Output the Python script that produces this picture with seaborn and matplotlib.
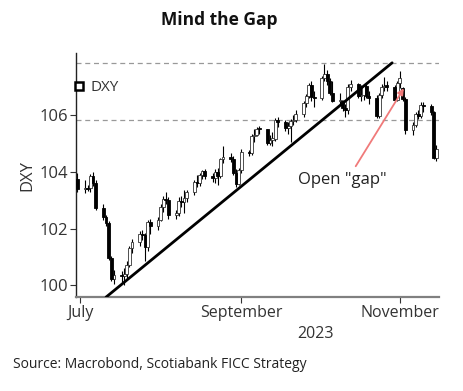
import numpy as np
import pandas as pd
import matplotlib
matplotlib.use("Agg")
import matplotlib.pyplot as plt
import matplotlib.dates as mdates
from matplotlib.lines import Line2D
import seaborn as sns

# DXY daily candles, 30 Jun - 15 Nov 2023
dates = pd.bdate_range("2023-06-30", "2023-11-15")

opens = [103.75,
         103.38, 103.42, 103.42, 103.85, 103.62, 102.72, 102.41, 102.18, 100.97, 100.22, 100.36,
         100.33, 100.38, 100.72, 101.31, 101.52, 101.81, 101.78, 101.35, 102.22, 102.08,
         102.31, 102.75, 103.04, 103.02, 102.47, 102.54, 102.98, 102.93, 103.08, 103.29, 103.66,
         103.60, 103.88, 104.02, 103.84, 103.77, 104.01, 103.85, 104.45, 104.53, 104.47, 103.95, 103.59,
         104.07, 104.69, 104.67, 105.27, 105.29, 105.52, 105.50, 105.03, 105.14, 105.17, 105.83,
         105.77, 105.55, 105.62, 105.80, 105.84, 106.03, 106.43, 106.67, 107.08, 106.64,
         106.62, 107.33, 107.44, 107.20, 106.78, 106.49, 106.50, 106.24, 106.18, 107.00, 107.10,
         106.69, 106.71, 107.02, 106.69, 106.61, 105.97, 106.71, 107.00, 107.03, 107.01, 106.55,
         107.14, 106.95, 106.59, 105.49, 105.66, 106.03, 105.97, 106.35, 106.32, 106.10, 104.49]
highs = [103.95,
         103.70, 103.55, 103.92, 104.00, 103.70, 102.85, 102.48, 102.28, 101.05, 100.55, 100.50,
         100.60, 100.85, 101.38, 101.65, 101.92, 101.95, 101.85, 102.30, 102.35, 102.40,
         102.85, 103.15, 103.30, 103.10, 102.65, 103.10, 103.15, 103.35, 103.35, 103.72, 103.90,
         103.95, 104.08, 104.10, 103.95, 104.10, 104.15, 104.50, 104.90, 104.65, 104.55, 104.10, 104.15,
         104.80, 104.78, 105.35, 105.50, 105.60, 105.62, 105.52, 105.30, 105.40, 105.90, 105.95,
         105.82, 105.75, 105.85, 106.00, 106.20, 106.50, 106.75, 107.15, 107.20, 106.85,
         107.40, 107.80, 107.60, 107.30, 107.20, 106.80, 106.55, 106.40, 107.10, 107.25, 107.15,
         107.05, 107.10, 107.15, 106.85, 106.70, 106.80, 107.10, 107.35, 107.20, 107.05, 107.20,
         107.55, 107.00, 106.65, 105.75, 106.10, 106.20, 106.45, 106.45, 106.40, 106.15, 104.95]
lows = [103.30,
        103.25, 103.32, 103.30, 103.50, 102.65, 102.30, 102.10, 100.90, 100.15, 100.03, 100.10,
        100.02, 100.25, 100.65, 101.15, 101.40, 101.58, 100.85, 101.22, 101.80, 101.95,
        102.25, 102.60, 102.85, 102.35, 102.35, 102.45, 102.75, 102.55, 102.95, 103.20, 103.45,
        103.50, 103.75, 103.75, 103.65, 103.60, 103.55, 103.80, 104.30, 104.35, 103.90, 103.45, 103.55,
        103.95, 104.55, 104.60, 105.05, 105.25, 105.35, 104.95, 104.95, 104.90, 105.10, 105.60,
        105.45, 105.35, 105.05, 105.65, 105.75, 105.95, 106.30, 106.60, 106.50, 106.30,
        106.55, 107.20, 107.05, 106.70, 106.45, 106.35, 106.15, 105.95, 106.05, 106.85, 106.60,
        106.50, 106.55, 106.60, 106.40, 105.90, 105.90, 106.60, 106.85, 106.85, 106.45, 106.50,
        106.95, 106.50, 105.35, 105.30, 105.60, 105.85, 105.90, 106.10, 106.00, 104.45, 104.40]
closes = [103.38,
          103.42, 103.40, 103.85, 103.62, 102.72, 102.41, 102.18, 100.97, 100.22, 100.36, 100.33,
          100.38, 100.72, 101.31, 101.52, 101.81, 101.78, 101.35, 102.22, 102.08, 102.31,
          102.75, 103.04, 103.02, 102.47, 102.54, 102.98, 102.93, 103.08, 103.29, 103.66, 103.60,
          103.88, 104.02, 103.84, 103.77, 104.01, 103.85, 104.45, 104.53, 104.47, 103.95, 103.59, 104.07,
          104.69, 104.67, 105.27, 105.29, 105.52, 105.50, 105.03, 105.14, 105.17, 105.83, 105.77,
          105.55, 105.62, 105.80, 105.84, 106.03, 106.43, 106.67, 107.08, 106.64, 106.62,
          107.33, 107.44, 107.20, 106.78, 106.49, 106.50, 106.24, 106.18, 107.00, 107.10, 106.69,
          106.71, 107.02, 106.69, 106.61, 105.97, 106.71, 107.00, 107.03, 107.01, 106.55, 107.14,
          107.33, 106.59, 105.49, 105.66, 106.03, 105.97, 106.35, 106.32, 106.10, 104.49, 104.82]

# hand-drawn trend line and the two reference levels
trend_dates = ["2023-07-11", "2023-10-29"]
trend_values = [99.58, 107.85]
ref_levels = [107.84, 105.82]

df = pd.DataFrame({"date": dates, "open": opens, "high": highs, "low": lows, "close": closes})
up = df["close"] >= df["open"]

sns.set_theme(style="ticks")
plt.rcParams["font.family"] = ["Open Sans", "DejaVu Sans"]

fig = plt.figure(figsize=(4.64, 3.91), dpi=100)
ax = fig.add_axes([0.164, 0.240, 0.782, 0.624])

for lvl in ref_levels:
    ax.axhline(lvl, color="#999999", lw=0.9, ls=(0, (4, 3)), zorder=1)

# wicks
ax.vlines(df["date"], df["low"], df["high"], color="black", lw=0.8, zorder=2)
# bodies
body_w = 1.1
ax.bar(df.loc[up, "date"], (df.loc[up, "close"] - df.loc[up, "open"]).clip(lower=0.04),
       bottom=df.loc[up, "open"], width=body_w, color="white", edgecolor="#333333",
       linewidth=0.6, zorder=3)
ax.bar(df.loc[~up, "date"], (df.loc[~up, "open"] - df.loc[~up, "close"]).clip(lower=0.04),
       bottom=df.loc[~up, "close"], width=body_w, color="black", edgecolor="black",
       linewidth=0.6, zorder=3)

trend = pd.DataFrame({"date": pd.to_datetime(trend_dates), "value": trend_values})
sns.lineplot(data=trend, x="date", y="value", color="black", lw=2.0, ax=ax, zorder=4)

# annotation
ax.annotate("", xy=(pd.Timestamp("2023-11-02 12:00"), 106.95),
            xytext=(pd.Timestamp("2023-10-15"), 104.2),
            arrowprops=dict(arrowstyle="-|>", color="#f07a7a", lw=1.3,
                            mutation_scale=9, shrinkA=0, shrinkB=0), zorder=5)
ax.text(pd.Timestamp("2023-10-10"), 103.72, 'Open "gap"', ha="center", va="center",
        fontsize=12, color="#222222")

ax.set_xlim(pd.Timestamp("2023-06-29 12:00"), pd.Timestamp("2023-11-16"))
ax.set_ylim(99.58, 108.19)
ax.set_yticks([100, 102, 104, 106])
ax.set_xticks(pd.to_datetime(["2023-07-01", "2023-09-01", "2023-11-01"]))
ax.xaxis.set_major_formatter(mdates.DateFormatter("%B"))
ax.set_xlabel("")
ax.set_ylabel("DXY", fontsize=12, color="#333333", labelpad=3)
ax.tick_params(axis="both", colors="#333333", length=4, width=0.8)
ax.tick_params(axis="y", labelsize=12, pad=2)
ax.tick_params(axis="x", labelsize=11.5, pad=2)

sns.despine(ax=ax)
ax.spines["left"].set_color("#222222")
ax.spines["left"].set_linewidth(1.0)
ax.spines["bottom"].set_color("#808080")
ax.spines["bottom"].set_linewidth(1.6)

handle = Line2D([], [], marker="s", color="none", markerfacecolor="white",
                markeredgecolor="black", markeredgewidth=1.8, markersize=6)
ax.legend([handle], ["DXY"], loc="upper left", bbox_to_anchor=(-0.05, 0.945), frameon=False,
          handlelength=1.0, handletextpad=0.2, fontsize=11, labelcolor="#333333")

fig.text(0.661 * 0.782 + 0.164, 0.146, "2023", ha="center", va="center",
         fontsize=11.5, color="#333333")
fig.text(0.472, 0.948, "Mind the Gap", ha="center", va="center", fontsize=12.5,
         fontweight="bold", color="#111111")
fig.text(0.028, 0.067, "Source: Macrobond, Scotiabank FICC Strategy", ha="left", va="center",
         fontsize=10, color="#222222")

fig.savefig("out.png", dpi=100)
